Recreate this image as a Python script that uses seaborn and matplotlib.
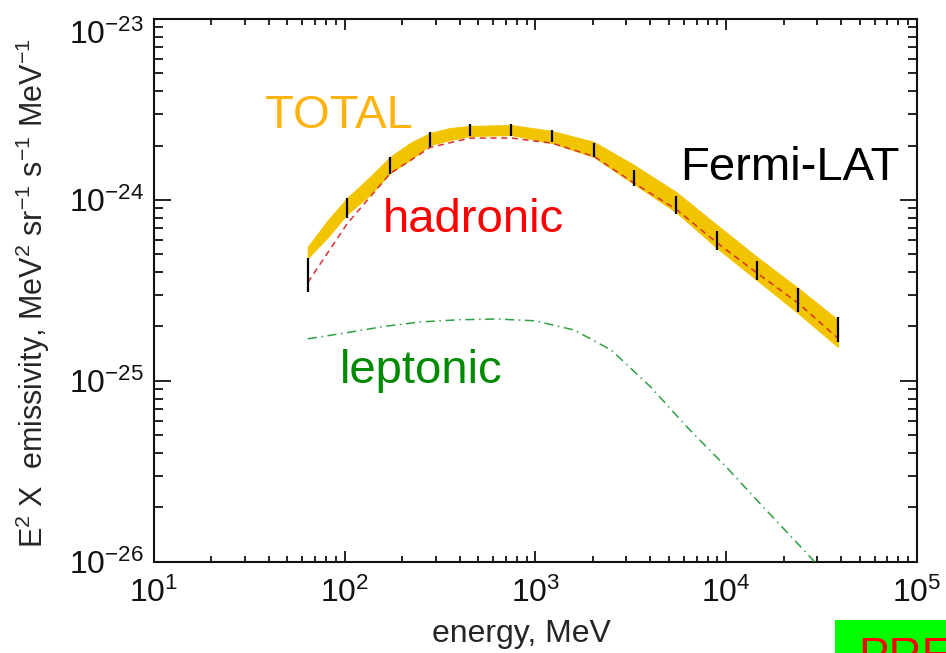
import numpy as np
import pandas as pd
import seaborn as sns
import matplotlib.pyplot as plt
from matplotlib.patches import Rectangle
from matplotlib.ticker import FuncFormatter, LogLocator, FixedLocator
from matplotlib.transforms import ScaledTranslation

# Fermi-LAT data points (MeV) and error bar ranges
lat_energy = [64, 103, 173, 280, 454, 745, 1222, 2028, 3283, 5454, 8943, 14500, 23770, 38560]
lat_low = [3.1e-25, 7.96e-25, 1.39e-24, 1.96e-24, 2.26e-24, 2.26e-24, 2.09e-24, 1.73e-24,
           1.19e-24, 8.37e-25, 5.3e-25, 3.61e-25, 2.41e-25, 1.64e-25]
lat_high = [4.79e-25, 1.026e-24, 1.73e-24, 2.38e-24, 2.63e-24, 2.63e-24, 2.44e-24, 2.07e-24,
            1.47e-24, 1.05e-24, 6.75e-25, 4.6e-25, 3.27e-25, 2.26e-25]

# TOTAL band (upper / lower edge)
band_energy = [64, 81.7, 103, 135.5, 173, 220, 280, 356, 454, 745, 1222, 2028, 3283, 5454,
               8943, 14500, 23770, 38560]
band_high = [5.50e-25, 7.75e-25, 1.026e-24, 1.34e-24, 1.728e-24, 2.065e-24, 2.345e-24, 2.498e-24,
             2.563e-24, 2.596e-24, 2.405e-24, 2.091e-24, 1.561e-24, 1.107e-24, 7.27e-25,
             4.84e-25, 3.265e-25, 2.173e-25]
band_low = [4.78e-25, 6.25e-25, 8.37e-25, 1.066e-24, 1.41e-24, 1.664e-24, 2.013e-24, 2.145e-24,
            2.258e-24, 2.287e-24, 2.065e-24, 1.728e-24, 1.226e-24, 8.58e-25, 5.43e-25,
            3.61e-25, 2.375e-25, 1.541e-25]

# model curves
hadronic = [3.5e-25, 7.4e-25, 1.40e-24, 1.95e-24, 2.2e-24, 2.2e-24, 2.06e-24, 1.74e-24,
            1.24e-24, 8.9e-25, 5.8e-25, 3.95e-25, 2.7e-25, 1.72e-25]
lep_energy = [64, 100, 160, 250, 400, 630, 1000, 1600, 2500, 4000, 6300, 10000, 16000, 25000, 40000]
leptonic = [1.71e-25, 1.84e-25, 2.0e-25, 2.12e-25, 2.18e-25, 2.2e-25, 2.15e-25, 1.91e-25,
            1.48e-25, 9.3e-26, 5.5e-26, 3.35e-26, 1.96e-26, 1.19e-26, 7.0e-27]

x_ticks = [1e1, 1e2, 1e3, 1e4, 1e5]
y_ticks = [1e-26, 1e-25, 1e-24, 1e-23]

sns.set_style("ticks")
plt.rcParams['font.family'] = ['Liberation Sans', 'DejaVu Sans']
plt.rcParams['mathtext.fontset'] = 'custom'
plt.rcParams['mathtext.rm'] = 'Liberation Sans'

fig = plt.figure(figsize=(9.46, 6.53), dpi=100)
ax = fig.add_axes([0.1628, 0.1394, 0.8065, 0.8315])
ax.set_xscale('log')
ax.set_yscale('log')

band = pd.DataFrame({"energy": band_energy, "high": band_high, "low": band_low})
model = pd.DataFrame({"energy": lat_energy, "hadronic": hadronic})
lep = pd.DataFrame({"energy": lep_energy, "leptonic": leptonic})

ax.fill_between(band["energy"], band["low"], band["high"], color="#F2C400", lw=0.8,
                edgecolor="#F2C400", zorder=2)
sns.lineplot(data=model, x="energy", y="hadronic", color="#D93030", lw=1.1,
             linestyle=(0, (4, 3)), estimator=None, ax=ax, zorder=3)
sns.lineplot(data=lep, x="energy", y="leptonic", color="#2EA043", lw=1.1,
             linestyle=(0, (6, 3, 1, 3)), estimator=None, ax=ax, zorder=3)
ax.vlines(lat_energy, lat_low, lat_high, color="black", lw=1.6, zorder=4)

ax.set_xlim(10, 1e5)
ax.set_ylim(1e-26, 1e-23)

fmt = FuncFormatter(lambda v, p: r'$\mathregular{10^{%d}}$' % round(np.log10(v)))
ax.xaxis.set_major_formatter(fmt)
ax.yaxis.set_major_formatter(fmt)
ax.xaxis.set_major_locator(FixedLocator(x_ticks))
ax.yaxis.set_major_locator(FixedLocator(y_ticks))
ax.xaxis.set_minor_locator(LogLocator(base=10, subs=np.arange(2, 10)))
ax.yaxis.set_minor_locator(LogLocator(base=10, subs=np.arange(2, 10)))
ax.xaxis.set_minor_formatter(plt.NullFormatter())
ax.yaxis.set_minor_formatter(plt.NullFormatter())

ax.tick_params(axis='both', which='both', direction='in', top=True, right=True,
               colors='#111111', width=1.3, labelsize=23)
ax.tick_params(axis='x', which='major', length=8, pad=11)
ax.tick_params(axis='x', which='minor', length=4.5)
ax.tick_params(axis='y', which='major', length=12, pad=7)
ax.tick_params(axis='y', which='minor', length=6.5)
for s in ax.spines.values():
    s.set_linewidth(1.5)
    s.set_color('#111111')

ax.set_xlabel("energy, MeV", fontsize=23)
ax.xaxis.set_label_coords(0.481, -0.105)
ax.set_ylabel(r"E$\mathregular{^2}$ X  emissivity, MeV$\mathregular{^2}$ sr$\mathregular{^{-1}}$ "
              r"s$\mathregular{^{-1}}$ MeV$\mathregular{^{-1}}$", fontsize=22)
ax.yaxis.set_label_coords(-0.134, 0.495)

ax.text(38, 2.5e-24, "TOTAL", color="#FFB30F", fontsize=34, va='baseline')
ax.text(158, 6.65e-25, "hadronic", color="#FF0000", fontsize=34, va='baseline')
ax.text(5728, 1.29e-24, "Fermi-LAT", color="black", fontsize=34, va='baseline')
ax.text(94, 9.75e-26, "leptonic", color="#008A00", fontsize=34, va='baseline')

fig.patches.append(Rectangle((835 / 946, 0), 0.2, 33 / 653, transform=fig.transFigure,
                             facecolor="#00FF00", edgecolor='none', zorder=0))
fig.text(858 / 946, 1 - 636 / 653, "PRELIMINARY", color="#FF0000", fontsize=33, va='top')

# shift the top y label down so it stays inside the figure
fig.canvas.draw()
for tick in ax.yaxis.get_major_ticks():
    if np.isclose(np.log10(tick.get_loc()), -23):
        tick.label1.set_transform(tick.label1.get_transform()
                                  + ScaledTranslation(0, -9 / 72, fig.dpi_scale_trans))

plt.savefig("out.png", dpi=100)
